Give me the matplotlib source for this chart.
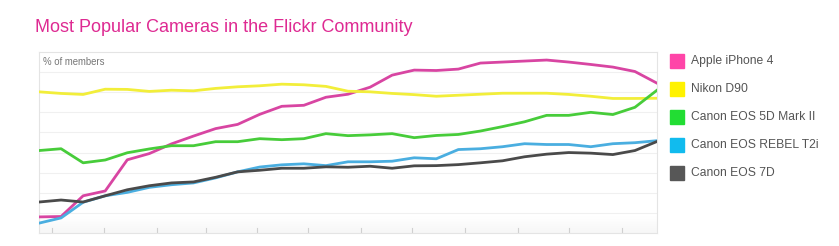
import numpy as np
import matplotlib
matplotlib.use("Agg")
import matplotlib.pyplot as plt
from matplotlib.patches import Rectangle

# data (one gridline = 1 unit, unlabeled scale)
names = ["Apple iPhone 4", "Nikon D90", "Canon EOS 5D Mark II",
         "Canon EOS REBEL T2i", "Canon EOS 7D"]

iphone4 = [0.80, 0.82, 1.85, 2.09, 3.64, 3.95, 4.43, 4.82, 5.19, 5.40,
           5.90, 6.30, 6.35, 6.75, 6.90, 7.25, 7.85, 8.10, 8.08, 8.15,
           8.45, 8.50, 8.55, 8.60, 8.50, 8.38, 8.25, 8.03, 7.45]
nikon_d90 = [7.02, 6.94, 6.89, 7.15, 7.14, 7.04, 7.10, 7.07, 7.19, 7.27,
             7.32, 7.40, 7.37, 7.29, 7.05, 7.02, 6.94, 6.88, 6.80, 6.85,
             6.90, 6.95, 6.95, 6.95, 6.89, 6.80, 6.69, 6.69, 6.70]
eos_5d2 = [4.10, 4.19, 3.49, 3.63, 3.99, 4.18, 4.34, 4.34, 4.54, 4.54,
           4.69, 4.64, 4.69, 4.94, 4.84, 4.88, 4.94, 4.74, 4.85, 4.90,
           5.07, 5.29, 5.53, 5.85, 5.85, 6.00, 5.89, 6.25, 7.10]
rebel_t2i = [0.49, 0.75, 1.53, 1.85, 2.02, 2.27, 2.40, 2.49, 2.74, 3.04,
             3.28, 3.39, 3.44, 3.35, 3.54, 3.54, 3.57, 3.74, 3.69, 4.15,
             4.19, 4.29, 4.44, 4.40, 4.40, 4.29, 4.44, 4.49, 4.59]
eos_7d = [1.54, 1.64, 1.54, 1.85, 2.15, 2.35, 2.49, 2.54, 2.77, 3.04,
          3.12, 3.22, 3.22, 3.29, 3.27, 3.32, 3.22, 3.34, 3.35, 3.40,
          3.49, 3.59, 3.79, 3.92, 4.00, 3.97, 3.90, 4.10, 4.55]

month_ticks = [0.59, 2.95, 5.35, 7.58, 9.89, 12.2, 14.61, 16.92, 19.28,
               21.69, 24.0, 26.41]

series = [iphone4, nikon_d90, eos_5d2, rebel_t2i, eos_7d]
line_colors = ["#d845a2", "#f2ee3a", "#47cc3a", "#4aaee0", "#4a4a4a"]
key_colors = ["#ff45a8", "#fff200", "#22dd33", "#11bbee", "#575757"]

plt.rcParams['font.family'] = ['Liberation Sans', 'DejaVu Sans']

W, H = 839, 246
fig = plt.figure(figsize=(W / 100, H / 100), dpi=100)
ax = fig.add_axes([39 / W, (H - 233) / H, (657 - 39) / W, (233 - 52) / H])

n = len(iphone4)
x = np.arange(n)
ax.set_xlim(0, n - 1)
ax.set_ylim(0, 9)

# light gradient at the bottom of the plot
grad = np.linspace(0, 1, 50).reshape(-1, 1)
ax.imshow(grad, extent=[0, n - 1, 0, 0.8], aspect='auto', cmap='Greys',
          vmin=0, vmax=14, origin='upper', zorder=0)

for yv in range(1, 9):
    ax.axhline(yv, color="#f0f0f0", lw=0.8, zorder=1)

for vals, c in zip(series, line_colors):
    ax.plot(x, vals, color=c, lw=2.0, solid_joinstyle='round', zorder=3)

for t in month_ticks:
    ax.plot([t, t], [0, 0.25], color="#d0d0d0", lw=0.8, zorder=2)

ax.set_xticks([])
ax.set_yticks([])
for s in ax.spines.values():
    s.set_color("#e4e4e4")
    s.set_linewidth(0.8)

ax.text(0.006, 0.945, "% of members", transform=ax.transAxes,
        fontsize=6.9, color="#777777", va='center', ha='left')

fig.text(35 / W, 1 - 27 / H, "Most Popular Cameras in the Flickr Community",
         fontsize=13.0, color="#de2a92", va='center', ha='left')

# legend key
for i, (name, c) in enumerate(zip(names, key_colors)):
    yc = 61 + 28 * i
    fig.patches.append(Rectangle((670 / W, 1 - (yc + 7) / H), 14 / W, 14 / H,
                                 transform=fig.transFigure, color=c))
    fig.text(691 / W, 1 - yc / H, name, fontsize=8.7, color="#555555",
             va='center', ha='left')

fig.savefig("out.png", dpi=100)
